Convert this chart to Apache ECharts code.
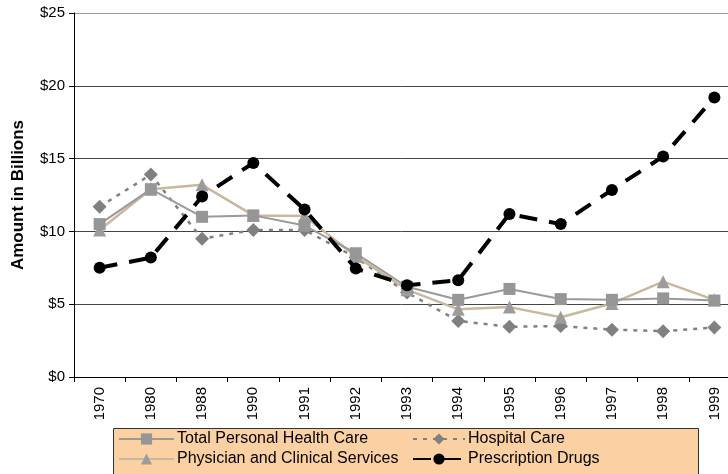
<!DOCTYPE html>
<html>
<head>
<meta charset="utf-8">
<script src="https://cdn.jsdelivr.net/npm/echarts@6/dist/echarts.min.js"></script>
<style>
  html, body { margin: 0; padding: 0; background: #fff; overflow: hidden; }
  #chart { width: 728px; height: 474px; }
</style>
</head>
<body>
<div id="chart"></div>
<script>
var years = ["1970", "1980", "1988", "1990", "1991", "1992", "1993", "1994", "1995", "1996", "1997", "1998", "1999"];
var totalCare = [10.5, 12.9, 11.0, 11.1, 10.4, 8.5, 6.2, 5.3, 6.05, 5.35, 5.3, 5.4, 5.25];
var hospitalCare = [11.7, 13.9, 9.5, 10.1, 10.1, 8.2, 5.8, 3.85, 3.45, 3.5, 3.25, 3.15, 3.4];
var physicianCare = [10.1, 12.9, 13.2, 11.1, 11.05, 8.3, 6.0, 4.65, 4.8, 4.1, 5.05, 6.55, 5.3];
var rxDrugs = [7.5, 8.2, 12.4, 14.7, 11.5, 7.45, 6.3, 6.65, 11.2, 10.5, 12.85, 15.15, 19.2];

var chart = echarts.init(document.getElementById("chart"));

var font = "Liberation Sans, Arial, sans-serif";

var legendText = { fontFamily: font, fontSize: 16, color: "#000", padding: [0, 0, 0, -2] };

var option = {
  animation: false,
  textStyle: { fontFamily: font },
  grid: {
    left: 74,
    top: 13,
    bottom: 97,
    width: 666,
    outerBoundsMode: "none"
  },
  graphic: [
    {
      type: "rect",
      z: 0,
      shape: { x: 113.5, y: 428.5, width: 585, height: 60 },
      style: { fill: "#FBD1A3", stroke: "#333", lineWidth: 1 }
    }
  ],
  legend: [
    {
      left: 118,
      top: 431,
      orient: "vertical",
      padding: 0,
      height: 60,
      itemWidth: 55,
      itemHeight: 14,
      itemGap: 4,
      data: ["Total Personal Health Care", "Physician and Clinical Services"],
      textStyle: legendText
    },
    {
      left: 412,
      top: 431,
      orient: "vertical",
      padding: 0,
      height: 60,
      itemWidth: 52,
      itemHeight: 14,
      itemGap: 4,
      data: ["Hospital Care", "Prescription Drugs"],
      textStyle: legendText
    }
  ],
  xAxis: {
    type: "category",
    data: years,
    axisLine: { lineStyle: { color: "#000", width: 1 } },
    axisTick: { show: true, length: 5, lineStyle: { color: "#000" } },
    axisLabel: { rotate: 90, fontSize: 15, color: "#000", margin: 10, fontFamily: font },
    splitLine: { show: false }
  },
  yAxis: {
    type: "value",
    min: 0,
    max: 25,
    interval: 5,
    name: "Amount in Billions",
    nameLocation: "middle",
    nameGap: 47,
    nameTextStyle: { fontSize: 17, fontWeight: "bold", color: "#000", fontFamily: font },
    axisLine: { show: true, lineStyle: { color: "#000", width: 1 } },
    axisTick: { show: true, length: 5, lineStyle: { color: "#000" } },
    axisLabel: {
      fontSize: 15,
      color: "#000",
      margin: 9,
      fontFamily: font,
      formatter: function (v) { return "$" + v; }
    },
    splitLine: { lineStyle: { color: ["#444", "#444", "#444", "#444", "#444", "#999"], width: 1 } }
  },
  series: [
    {
      name: "Total Personal Health Care",
      type: "line",
      data: totalCare,
      symbol: "rect",
      symbolSize: 12,
      itemStyle: { color: "#969696" },
      lineStyle: { color: "#9a9a9a", width: 2 },
      z: 3
    },
    {
      name: "Hospital Care",
      type: "line",
      data: hospitalCare,
      symbol: "diamond",
      symbolSize: 14,
      itemStyle: { color: "#808080" },
      lineStyle: { color: "#808080", width: 2.5, type: [4, 6] },
      z: 2
    },
    {
      name: "Physician and Clinical Services",
      type: "line",
      data: physicianCare,
      symbol: "triangle",
      symbolSize: 13,
      itemStyle: { color: "#9c9c9c" },
      lineStyle: { color: "#C9B79E", width: 2.5 },
      z: 2
    },
    {
      name: "Prescription Drugs",
      type: "line",
      data: rxDrugs,
      symbol: "circle",
      symbolSize: 12,
      itemStyle: { color: "#000" },
      lineStyle: { color: "#000", width: 4, type: [18, 12] },
      z: 4
    }
  ]
};

chart.setOption(option);
</script>
</body>
</html>
